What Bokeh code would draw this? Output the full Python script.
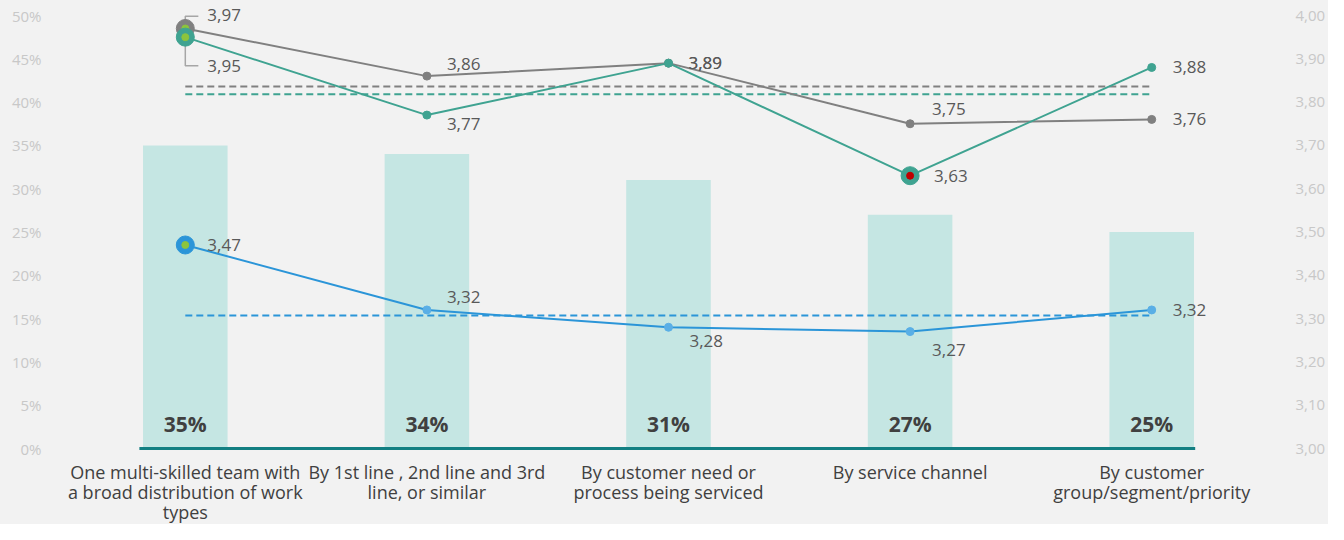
from bokeh.plotting import figure
from bokeh.layouts import column
from bokeh.models import (Range1d, LinearAxis, FixedTicker, CustomJSTickFormatter,
                          ColumnDataSource)
from bokeh.core.properties import value
from bokeh.embed import file_html
from bokeh.resources import INLINE

# ---------------- data ----------------
categories = [
    "One multi-skilled team with\na broad distribution of work\ntypes",
    "By 1st line , 2nd line and 3rd\nline, or similar",
    "By customer need or\nprocess being serviced",
    "By service channel",
    "By customer\ngroup/segment/priority",
]
bar_pct = [35, 34, 31, 27, 25]
gray_vals = [3.97, 3.86, 3.89, 3.75, 3.76]
teal_vals = [3.95, 3.77, 3.89, 3.63, 3.88]
blue_vals = [3.47, 3.32, 3.28, 3.27, 3.32]
gray_avg = 3.836
teal_avg = 3.818
blue_avg = 3.307
left_ticks = [0, 5, 10, 15, 20, 25, 30, 35, 40, 45, 50]
right_ticks = [3.0, 3.1, 3.2, 3.3, 3.4, 3.5, 3.6, 3.7, 3.8, 3.9, 4.0]

# ---------------- styles ----------------
BG = "#f2f2f2"
BAR = "#c5e6e3"
AXIS = "#137f82"
GRAY = "#808080"
TEAL = "#3fa391"
BLUE = "#2b95d8"
BLUE_PT = "#5aafe6"
LIME = "#8cc43c"
RED = "#c00000"
TXT = "#595959"
FONT = "Open Sans"
AXIS_START, AXIS_END = -0.19, 4.18   # extent of the teal base line (category units)

# label offsets (pixels) per point
gray_dx = [22, 20, 20, 22, 21]
gray_dy = [-13, -12, 0, -15, 0]
teal_dx = [22, 20, 20, 24, 21]
teal_dy = [29, 9, 0, 0, 0]
blue_dx = [22, 20, 21, 22, 21]
blue_dy = [0, -13, 14, 18, 0]

xs = list(range(len(categories)))

W, H = 1328, 524
H1 = 460                 # main figure height
H2 = H - H1              # category label strip
TOP = 5
BELOW0 = 12              # pixels of frame below the zero line
PX = 433                 # pixels for the full 0-50 % / 3-4 span
frame_h = H1 - TOP
x_range = Range1d(-0.5, 4.5)

p = figure(width=W, height=H1, output_backend="svg", toolbar_location=None,
           x_range=x_range,
           y_range=Range1d(-BELOW0 * 50 / PX, (frame_h - BELOW0) * 50 / PX),
           x_axis_location=None,
           min_border_left=64, min_border_right=53, min_border_top=TOP,
           min_border_bottom=0, background_fill_color=BG,
           border_fill_color=BG, outline_line_color=None)
p.extra_y_ranges = {"r": Range1d(3.0 - BELOW0 / PX, 3.0 + (frame_h - BELOW0) / PX)}
p.xgrid.visible = False
p.ygrid.visible = False

# left axis
ya = p.yaxis[0]
ya.ticker = FixedTicker(ticks=left_ticks)
ya.formatter = CustomJSTickFormatter(code="return tick + '%';")
ya.axis_line_color = None
ya.major_tick_line_color = None
ya.minor_tick_line_color = None
ya.major_label_standoff = 17
ya.major_label_text_color = "#c8c8c8"
ya.major_label_text_font = FONT
ya.major_label_text_font_size = "15px"

# right axis
ra = LinearAxis(y_range_name="r", ticker=FixedTicker(ticks=right_ticks),
                formatter=CustomJSTickFormatter(code="return tick.toFixed(2).replace('.', ',');"))
ra.axis_line_color = None
ra.major_tick_line_color = None
ra.minor_tick_line_color = None
ra.major_label_standoff = 17
ra.major_label_text_color = "#c8c8c8"
ra.major_label_text_font = FONT
ra.major_label_text_font_size = "15px"
p.add_layout(ra, "right")

# bars
p.vbar(x=xs, top=bar_pct, width=0.35, color=BAR, line_color=None)
p.text(x=xs, y=[0] * 5, text=[f"{v}%" for v in bar_pct], y_offset=-25,
       text_align="center", text_baseline="middle", text_font=value(FONT),
       text_font_style="bold", text_font_size="21px", text_color="#404040")

# base axis line
p.segment(x0=[AXIS_START], y0=[0], x1=[AXIS_END], y1=[0], line_color=AXIS, line_width=3)

# average dashed lines
for avg, col in [(gray_avg, GRAY), (teal_avg, TEAL), (blue_avg, BLUE)]:
    p.line(x=[0, 4], y=[avg, avg], y_range_name="r", line_color=col,
           line_width=2, line_dash="7 4")

# leader lines for first points
p.line(x=[0, 0, 0.054], y=[gray_vals[0], gray_vals[0] + 0.028, gray_vals[0] + 0.028],
       y_range_name="r", line_color="#a6a6a6", line_width=1.5)
p.line(x=[0, 0, 0.054], y=[teal_vals[0], teal_vals[0] - 0.066, teal_vals[0] - 0.066],
       y_range_name="r", line_color="#a6a6a6", line_width=1.5)

# series lines
p.line(x=xs, y=gray_vals, y_range_name="r", line_color=GRAY, line_width=2)
p.line(x=xs, y=teal_vals, y_range_name="r", line_color=TEAL, line_width=2)
p.line(x=xs, y=blue_vals, y_range_name="r", line_color=BLUE, line_width=2)

p.scatter(x=xs[1:], y=gray_vals[1:], y_range_name="r", size=8, color=GRAY)
p.scatter(x=xs[1:], y=teal_vals[1:], y_range_name="r", size=8, color=TEAL)
p.scatter(x=xs[1:], y=blue_vals[1:], y_range_name="r", size=8, color=BLUE_PT)

# highlighted markers
p.scatter(x=[0], y=[gray_vals[0]], y_range_name="r", size=18, color=GRAY)
p.scatter(x=[0], y=[gray_vals[0]], y_range_name="r", size=7, color=LIME)
p.scatter(x=[0], y=[teal_vals[0]], y_range_name="r", size=18, color=TEAL)
p.scatter(x=[0], y=[teal_vals[0]], y_range_name="r", size=7, color=LIME)
p.scatter(x=[3], y=[teal_vals[3]], y_range_name="r", size=18, color=TEAL)
p.scatter(x=[3], y=[teal_vals[3]], y_range_name="r", size=7, color=RED)
p.scatter(x=[0], y=[blue_vals[0]], y_range_name="r", size=18, color=BLUE)
p.scatter(x=[0], y=[blue_vals[0]], y_range_name="r", size=7, color=LIME)

# value labels
def fmt(v):
    return f"{v:.2f}".replace(".", ",")

for vals, dx, dy in [(gray_vals, gray_dx, gray_dy), (teal_vals, teal_dx, teal_dy),
                     (blue_vals, blue_dx, blue_dy)]:
    src = ColumnDataSource(dict(x=xs, y=vals, t=[fmt(v) for v in vals], dx=dx, dy=dy))
    p.text(x="x", y="y", text="t", x_offset="dx", y_offset="dy", source=src,
           y_range_name="r", text_align="left", text_baseline="middle",
           text_font=value(FONT), text_font_size="17px", text_color=TXT)

# ---------------- category label strip ----------------
p2 = figure(width=W, height=H2, output_backend="svg", toolbar_location=None,
            x_range=x_range, y_range=Range1d(-H2, 0),
            x_axis_location=None, y_axis_location=None,
            min_border_left=64, min_border_right=53, min_border_top=0,
            min_border_bottom=0, background_fill_color=BG,
            border_fill_color=BG, outline_line_color=None)
p2.xgrid.visible = False
p2.ygrid.visible = False
p2.text(x=xs, y=[0] * 5, text=categories, y_offset=-1, text_align="center",
        text_baseline="top", text_font=value(FONT), text_font_size="18px",
        text_color="#404040", text_line_height=0.85)

layout = column(p, p2, spacing=0, styles={"background-color": BG})
open("out.html", "w").write(file_html(layout, INLINE))
